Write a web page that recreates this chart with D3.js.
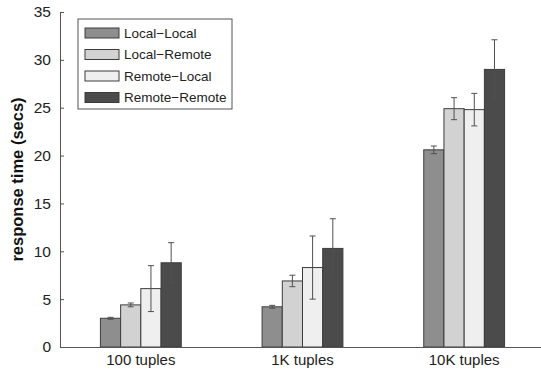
<!DOCTYPE html>
<html>
<head>
<meta charset="utf-8">
<script src="https://cdn.jsdelivr.net/npm/d3@7"></script>
<style>
  body { margin: 0; background: #fff; }
  svg { display: block; font-family: "Liberation Sans", Arial, sans-serif; }
</style>
</head>
<body>
<svg id="chart" width="541" height="373"></svg>
<script>
const groups = ["100 tuples", "1K tuples", "10K tuples"];
const series = ["Local\u2212Local", "Local\u2212Remote", "Remote\u2212Local", "Remote\u2212Remote"];
const colors = ["#8e8e8e", "#d2d2d2", "#efefef", "#4b4b4b"];
// mean response times, one array per series (100, 1K, 10K tuples)
const localLocal   = [3.0, 4.2, 20.6];
const localRemote  = [4.4, 6.9, 24.9];
const remoteLocal  = [6.1, 8.3, 24.8];
const remoteRemote = [8.8, 10.3, 29.0];
// half-width of error bars
const errLocalLocal   = [0.1, 0.15, 0.4];
const errLocalRemote  = [0.2, 0.6, 1.15];
const errRemoteLocal  = [2.4, 3.3, 1.7];
const errRemoteRemote = [2.1, 3.1, 3.1];
const yTicks = [0, 5, 10, 15, 20, 25, 30, 35];

const means = [localLocal, localRemote, remoteLocal, remoteRemote];
const errs = [errLocalLocal, errLocalRemote, errRemoteLocal, errRemoteRemote];

const svg = d3.select("#chart");
const m = {left: 60, right: -4, top: 12, bottom: 26};
const W = 541, H = 373;

const x0 = d3.scaleBand().domain(groups).range([m.left, W - m.right]).paddingInner(0.5).paddingOuter(0.25);
const x1 = d3.scaleBand().domain(d3.range(series.length)).range([0, x0.bandwidth()]);
const y = d3.scaleLinear().domain([0, 35]).range([H - m.bottom, m.top]);

const data = [];
groups.forEach((g, gi) => series.forEach((s, si) => data.push({g, si, v: means[si][gi], e: errs[si][gi]})));

svg.append("g").selectAll("rect").data(data).join("rect")
  .attr("x", d => x0(d.g) + x1(d.si))
  .attr("y", d => y(d.v))
  .attr("width", x1.bandwidth())
  .attr("height", d => y(0) - y(d.v))
  .attr("fill", d => colors[d.si])
  .attr("stroke", "#3c3c3c").attr("stroke-width", 1);

// error bars
const eb = svg.append("g").attr("stroke", "#505050").attr("stroke-width", 1);
data.forEach(d => {
  const cx = x0(d.g) + x1(d.si) + x1.bandwidth() / 2;
  eb.append("line").attr("x1", cx).attr("x2", cx).attr("y1", y(d.v - d.e)).attr("y2", y(d.v + d.e));
  [d.v - d.e, d.v + d.e].forEach(v => eb.append("line").attr("x1", cx - 3).attr("x2", cx + 3).attr("y1", y(v)).attr("y2", y(v)));
});

// axes
const yAxis = svg.append("g").attr("transform", `translate(${m.left},0)`)
  .call(d3.axisLeft(y).tickValues(yTicks).tickSizeInner(-4).tickSizeOuter(-4).tickPadding(9));
yAxis.selectAll("text").attr("font-size", 15.5).attr("fill", "#222").attr("font-family", "Liberation Sans, Arial, sans-serif");
yAxis.selectAll("path, line").attr("stroke", "#555");

const xAxis = svg.append("g").attr("transform", `translate(0,${y(0)})`)
  .call(d3.axisBottom(x0).tickSize(0).tickPadding(7));
xAxis.select(".domain").attr("stroke", "#555");
xAxis.selectAll("text").attr("font-size", 15).attr("fill", "#222").attr("font-family", "Liberation Sans, Arial, sans-serif");

svg.append("text").attr("transform", `translate(23,${(y(0) + y(35)) / 2}) rotate(-90)`)
  .attr("text-anchor", "middle").attr("font-weight", "bold").attr("font-size", 16.5).attr("fill", "#111")
  .text("response time (secs)");

// legend
const lg = svg.append("g").attr("transform", "translate(78,19)");
lg.append("rect").attr("width", 154).attr("height", 90).attr("fill", "#fff").attr("stroke", "#555");
series.forEach((s, i) => {
  const row = lg.append("g").attr("transform", `translate(7,${9 + i * 21.5})`);
  row.append("rect").attr("width", 34).attr("height", 10).attr("fill", colors[i]).attr("stroke", "#3c3c3c");
  row.append("text").attr("x", 39).attr("y", 5).attr("dy", "0.35em").attr("font-size", 13.5).attr("fill", "#222").text(s);
});
</script>
</body>
</html>
